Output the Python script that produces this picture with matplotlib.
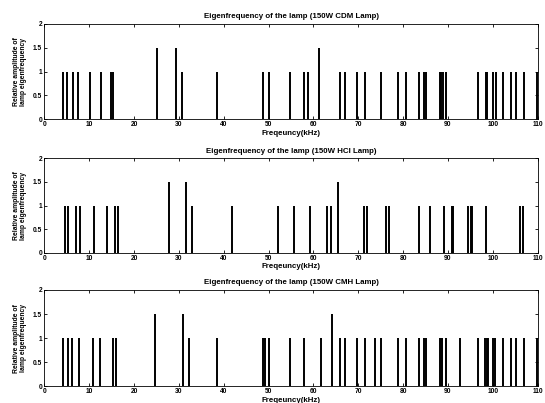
import matplotlib
matplotlib.use("Agg")
import matplotlib.pyplot as plt

# eigenfrequencies (kHz) and relative amplitudes
cdm_freq = [4.2, 5.0, 6.3, 7.4, 10.2, 12.6, 14.9, 15.4, 25.1, 29.4, 30.6, 38.6,
            48.7, 50.2, 54.8, 58.0, 58.7, 61.2, 65.9, 67.0, 69.8, 71.6, 75.1,
            78.9, 80.6, 83.6, 84.7, 85.0, 88.2, 88.5, 88.8, 89.6, 96.7, 98.4,
            98.7, 100.0, 100.6, 102.2, 104.1, 105.2, 107.0, 109.8]
cdm_amp = [1, 1, 1, 1, 1, 1, 1, 1, 1.5, 1.5, 1, 1,
           1, 1, 1, 1, 1, 1.5, 1, 1, 1, 1, 1,
           1, 1, 1, 1, 1, 1, 1, 1, 1, 1, 1,
           1, 1, 1, 1, 1, 1, 1, 1]

hci_freq = [4.7, 5.3, 7.0, 7.9, 11.0, 13.9, 15.7, 16.4, 27.9, 31.5, 32.9, 41.9,
            52.2, 55.7, 59.2, 63.1, 64.0, 65.5, 71.3, 71.9, 76.2, 76.9, 83.5,
            86.0, 89.2, 90.8, 91.1, 94.4, 95.1, 95.4, 98.5, 106.1, 106.7]
hci_amp = [1, 1, 1, 1, 1, 1, 1, 1, 1.5, 1.5, 1, 1,
           1, 1, 1, 1, 1, 1.5, 1, 1, 1, 1, 1,
           1, 1, 1, 1, 1, 1, 1, 1, 1, 1]

cmh_freq = [4.2, 5.2, 6.2, 7.8, 10.8, 12.4, 15.4, 16.0, 24.6, 30.9, 32.3, 38.6,
            48.7, 49.1, 50.2, 54.8, 58.0, 61.7, 64.2, 66.0, 67.0, 69.8, 71.6,
            73.7, 75.1, 78.9, 80.6, 83.6, 84.7, 85.0, 88.3, 88.6, 89.5, 92.7,
            96.8, 98.3, 98.6, 98.9, 100.0, 100.5, 102.2, 104.1, 105.2, 106.9, 109.8]
cmh_amp = [1, 1, 1, 1, 1, 1, 1, 1, 1.5, 1.5, 1, 1,
           1, 1, 1, 1, 1, 1, 1.5, 1, 1, 1, 1,
           1, 1, 1, 1, 1, 1, 1, 1, 1, 1, 1,
           1, 1, 1, 1, 1, 1, 1, 1, 1, 1, 1]

titles = ['Eigenfrequency of the lamp (150W CDM Lamp)',
          'Eigenfrequency of the lamp (150W HCI Lamp)',
          'Eigenfrequency of the lamp (150W CMH Lamp)']
series = [(cdm_freq, cdm_amp), (hci_freq, hci_amp), (cmh_freq, cmh_amp)]

plt.rcParams['font.family'] = ['Liberation Sans', 'DejaVu Sans']
plt.rcParams['font.weight'] = 'bold'

fig = plt.figure(figsize=(5.45, 4.03), dpi=100)
fig.patch.set_facecolor('white')

boxes = [[0.0813, 0.704, 0.9053, 0.2365],
         [0.0813, 0.373, 0.9053, 0.234],
         [0.0813, 0.0414, 0.9053, 0.239]]

for box, title, (f, a) in zip(boxes, titles, series):
    ax = fig.add_axes(box)
    ax.vlines(f, 0, a, color='black', linewidth=1.4)
    ax.set_xlim(0, 110)
    ax.set_ylim(0, 2)
    ax.set_xticks(range(0, 111, 10))
    ax.set_yticks([0, 0.5, 1, 1.5, 2])
    ax.set_yticklabels(['0', '0.5', '1', '1.5', '2'])
    ax.tick_params(direction='in', length=2, width=0.6, labelsize=4.8,
                   top=True, right=True, pad=1.5)
    for lab in ax.get_xticklabels() + ax.get_yticklabels():
        lab.set_fontweight('bold')
    for sp in ax.spines.values():
        sp.set_linewidth(0.6)
    ax.set_title(title, fontsize=5.7, fontweight='bold', pad=4)
    ax.set_xlabel('Freqeuncy(kHz)', fontsize=5.7, fontweight='bold', labelpad=1)
    ax.set_ylabel('Relative amplitude of\nlamp eigenfrequency', fontsize=4.9,
                  fontweight='bold', labelpad=4, linespacing=1.0)

fig.savefig('out.png', dpi=100)
